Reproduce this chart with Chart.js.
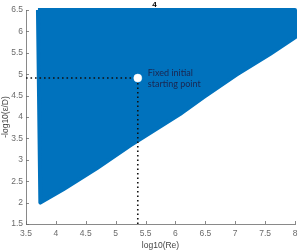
<!DOCTYPE html>
<html><head><meta charset="utf-8">
<script src="https://cdn.jsdelivr.net/npm/chart.js@4.4.1/dist/chart.umd.min.js"></script>
<style>html,body{margin:0;padding:0;background:#fff}canvas{display:block}</style>
</head><body>
<canvas id="c" width="303" height="252"></canvas>
<script>
// Region boundary (log10(Re), -log10(eps/D))
const regionX = [3.70, 8.0, 8.0, 7.58, 7.023, 6.465, 6.075, 5.239, 4.682, 4.124, 3.74, 3.70];
const regionY = [6.5, 6.5, 5.86, 5.47, 4.99, 4.46, 4.07, 3.33, 2.80, 2.31, 2.0, 6.5];
// Fixed initial starting point
const startX = [5.37];
const startY = [4.91];
const xTicks = [3.5, 4, 4.5, 5, 5.5, 6, 6.5, 7, 7.5, 8];
const yTicks = [1.5, 2, 2.5, 3, 3.5, 4, 4.5, 5, 5.5, 6, 6.5];
const titleText = '4';
const noteLines = ['Fixed initial', 'starting point'];

const region = regionX.map((x, i) => ({x, y: regionY[i]}));
const start = {x: startX[0], y: startY[0]};
const hLine = [{x: xTicks[0], y: start.y}, start];
const vLine = [{x: start.x, y: yTicks[0]}, start];

const tickFont = {family: 'Liberation Sans, Arial, sans-serif', size: 8.5};
const gray = '#6b6b6b';
const fmt = v => String(v);

const extras = {
  id: 'extras',
  afterDraw(chart) {
    const ctx = chart.ctx, xs = chart.scales.x, ys = chart.scales.y, a = chart.chartArea;
    ctx.save();
    ctx.strokeStyle = gray; ctx.lineWidth = 0.8;
    ctx.beginPath();
    xTicks.forEach(v => { const p = Math.round(xs.getPixelForValue(v)) + 0.5; ctx.moveTo(p, a.bottom); ctx.lineTo(p, a.bottom - 3); });
    yTicks.forEach(v => { const p = Math.round(ys.getPixelForValue(v)) + 0.5; ctx.moveTo(a.left, p); ctx.lineTo(a.left + 3, p); });
    ctx.stroke();
    // title
    ctx.fillStyle = '#000';
    ctx.font = 'bold 8px Liberation Sans, Arial, sans-serif';
    ctx.textAlign = 'center'; ctx.textBaseline = 'middle';
    ctx.fillText(titleText, (a.left + a.right) / 2 - 6, 4.5);
    // note
    const px = xs.getPixelForValue(start.x), py = ys.getPixelForValue(start.y);
    ctx.fillStyle = '#1a2650';
    ctx.font = '9px Lato, "Open Sans", sans-serif';
    ctx.textAlign = 'left';
    ctx.fillText(noteLines[0], px + 10, py - 5);
    ctx.fillText(noteLines[1], px + 10, py + 6);
    ctx.restore();
  }
};

new Chart(document.getElementById('c'), {
  type: 'scatter',
  data: {
    datasets: [
      {data: region, showLine: true, fill: 'shape', backgroundColor: '#0072BD', borderColor: '#0072BD',
       borderWidth: 4, borderJoinStyle: 'round', pointRadius: 0, clip: false, tension: 0, order: 3},
      {data: hLine, showLine: true, borderColor: '#111', borderWidth: 1.6, borderDash: [1.6, 2.9], pointRadius: 0, order: 2},
      {data: vLine, showLine: true, borderColor: '#111', borderWidth: 1.6, borderDash: [1.6, 2.9], pointRadius: 0, order: 2},
      {data: [start], pointRadius: 4, pointBackgroundColor: '#fff', pointBorderColor: '#fff', pointBorderWidth: 0.5, order: 1}
    ]
  },
  options: {
    responsive: false, animation: false, devicePixelRatio: 1,
    layout: {padding: {top: 10, right: 8, left: 0, bottom: 0}},
    plugins: {legend: {display: false}, tooltip: {enabled: false}},
    scales: {
      x: {
        type: 'linear', min: xTicks[0], max: xTicks[xTicks.length - 1],
        afterBuildTicks: s => { s.ticks = xTicks.map(v => ({value: v})); },
        afterFit: s => { s.height = 28; },
        grid: {display: false, drawTicks: false},
        border: {display: true, color: gray, width: 0.8},
        ticks: {font: tickFont, color: gray, padding: 5, maxRotation: 0, callback: fmt},
        title: {display: true, text: 'log10(Re)', font: {family: 'Liberation Sans, Arial, sans-serif', size: 8.5}, color: '#444', padding: {top: 0, bottom: 1}}
      },
      y: {
        type: 'linear', min: yTicks[0], max: yTicks[yTicks.length - 1],
        afterBuildTicks: s => { s.ticks = yTicks.map(v => ({value: v})); },
        afterFit: s => { s.width = 26; },
        grid: {display: false, drawTicks: false},
        border: {display: true, color: gray, width: 0.8},
        ticks: {font: tickFont, color: gray, padding: 3, callback: fmt},
        title: {display: true, text: '-log10(ε/D)', font: {family: 'Liberation Sans, Arial, sans-serif', size: 8.5}, color: '#444', padding: {top: 1, bottom: 0}}
      }
    }
  },
  plugins: [extras]
});
</script>
</body></html>
